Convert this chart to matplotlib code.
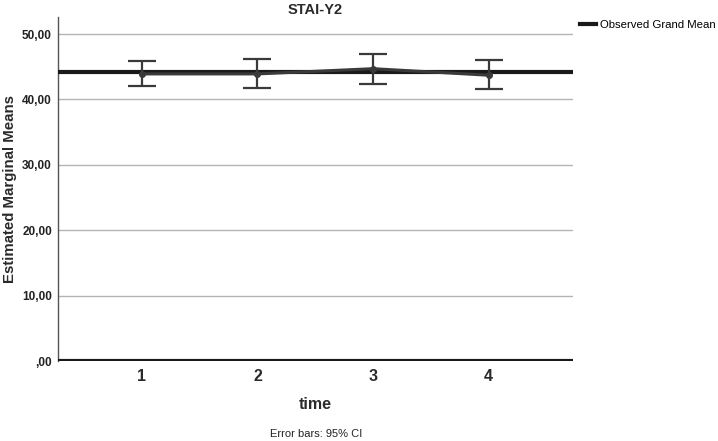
import matplotlib
matplotlib.use("Agg")
import matplotlib.pyplot as plt

times = [1, 2, 3, 4]
time_labels = ["1", "2", "3", "4"]
means = [43.9, 43.9, 44.7, 43.7]
ci_low = [42.1, 41.8, 42.35, 41.6]
ci_high = [45.8, 46.2, 47.0, 46.1]
grand_mean = 44.13
yticks = [0, 10, 20, 30, 40, 50]
ytick_labels = [",00", "10,00", "20,00", "30,00", "40,00", "50,00"]

plt.rcParams['font.family'] = ['Liberation Sans', 'DejaVu Sans']

fig = plt.figure(figsize=(7.18, 4.41), dpi=100)
ax = fig.add_axes([0.0801, 0.1814, 0.718, 0.780])

for y in yticks[1:]:
    ax.axhline(y, color='#b4b4b4', lw=1.0, zorder=1)

gm = ax.axhline(grand_mean, color='#1a1a1a', lw=3.0, zorder=3, label='Observed Grand Mean')

yerr = [[m - l for m, l in zip(means, ci_low)], [h - m for m, h in zip(means, ci_high)]]
ax.errorbar(times, means, yerr=yerr, color='#3a3a3a', lw=2.2, elinewidth=1.6,
            capsize=10, capthick=1.6, marker='o', markersize=4, zorder=4)

ax.axhline(0, color='#1a1a1a', lw=3.0, zorder=5)

ax.set_xlim(0.27, 4.73)
ax.set_ylim(0, 52.6)
ax.set_xticks(times)
ax.set_xticklabels(time_labels, fontsize=11.5, fontweight='bold')
ax.set_yticks(yticks)
ax.set_yticklabels(ytick_labels, fontsize=8.5, fontweight='bold')
ax.tick_params(axis='x', length=0, pad=6, colors='#2a2a2a')
ax.tick_params(axis='y', length=0, pad=4, colors='#222222')

for s in ['top', 'right', 'bottom']:
    ax.spines[s].set_visible(False)
ax.spines['left'].set_color('#555555')
ax.spines['left'].set_linewidth(1.0)

ax.set_ylabel('Estimated Marginal Means', fontsize=10.8, fontweight='bold', color='#2a2a2a', labelpad=4)
ax.set_xlabel('time', fontsize=11.5, fontweight='bold', color='#2a2a2a', labelpad=9)
ax.set_title('STAI-Y2', fontsize=10.5, fontweight='bold', color='#2a2a2a', pad=1)

fig.legend(handles=[gm], labels=['Observed Grand Mean'], loc='upper left',
           bbox_to_anchor=(0.802, 0.965), frameon=False, fontsize=8.2,
           handlelength=1.4, handletextpad=0.3, borderaxespad=0)

fig.text(0.44, 0.008, 'Error bars: 95% CI', fontsize=8, ha='center', color='#222222')

fig.savefig('out.png', dpi=100)
